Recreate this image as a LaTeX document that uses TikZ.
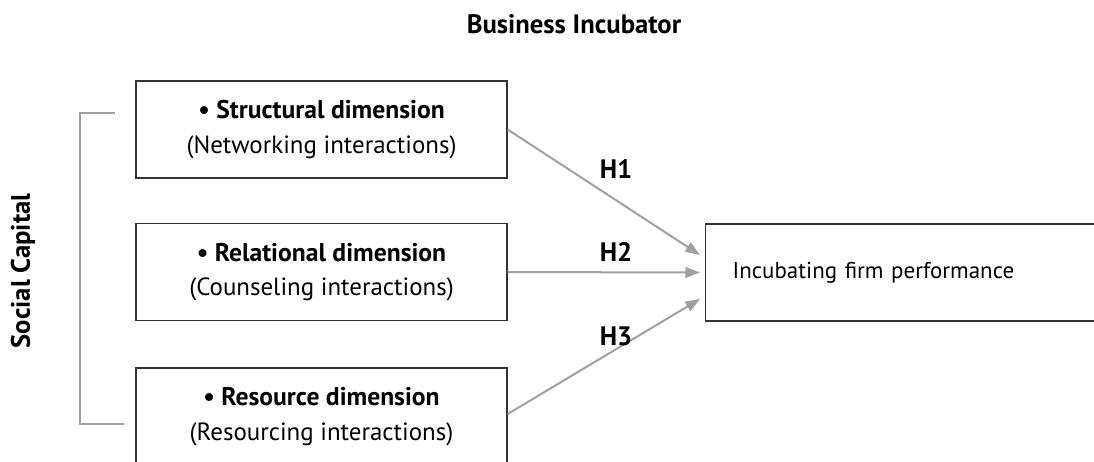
\documentclass[tikz,border=0pt]{standalone}
\usepackage{fontspec}
\setmainfont{PT Sans}
\usetikzlibrary{arrows.meta}
\definecolor{linkgray}{HTML}{A0A0A0}
\definecolor{boxline}{HTML}{333333}
\newcommand{\headline}[1]{{\bfseries\fontsize{19.2}{26}\selectfont #1}}
\begin{document}
\begin{tikzpicture}[x=0.75pt,y=-0.75pt,
  box/.style={draw=boxline, line width=1pt, minimum width=278.25pt, minimum height=72.75pt, align=center, inner sep=0pt, font=\fontsize{18.7}{26}\selectfont},
  link/.style={draw=linkgray, line width=1.5pt, -{Triangle[length=11pt,width=8pt]}},
  brk/.style={draw=linkgray, line width=1.5pt},
  lab/.style={font=\bfseries\fontsize{20}{22}\selectfont}]
\useasboundingbox (0,0) rectangle (1094,461);
\clip (0,0) rectangle (1094,461);
\node[box] (b1) at (321.5,129.5) {\headline{• Structural dimension}\\(Networking interactions)};
\node[box] (b2) at (321.5,272) {\headline{• Relational dimension}\\(Counseling interactions)};
\node[box] (b3) at (321.5,416.5) {\headline{• Resource dimension}\\(Resourcing interactions)};
\node[box, anchor=west, minimum width=0pt, text width=262.5pt, align=left, inner xsep=20.25pt, font=\fontsize{17.2}{20}\selectfont] (b4) at (705,272.5) {Incubating firm performance};
\draw[link] (b1.east) -- ([shift={(-5,-17.5)}]b4.west);
\draw[link] (b2.east) -- ([shift={(-5,0)}]b4.west);
\draw[link] ([yshift=1.9pt]b3.east) -- ([shift={(-5,26.5)}]b4.west);
\node[lab] (h1) at (616,169) {H1};
\node[lab] (h2) at (616,252) {H2};
\node[lab] (h3) at (616,336) {H3};
\node[lab] (title) at (574,24) {Business Incubator};
\node[lab, rotate=90] (sc) at (23,271) {Social Capital};
\coordinate (bt) at (115,113);
\coordinate (bb) at (124,424);
\draw[brk] (bt) -- ++(-35,0) |- (bb);
\end{tikzpicture}
\end{document}
